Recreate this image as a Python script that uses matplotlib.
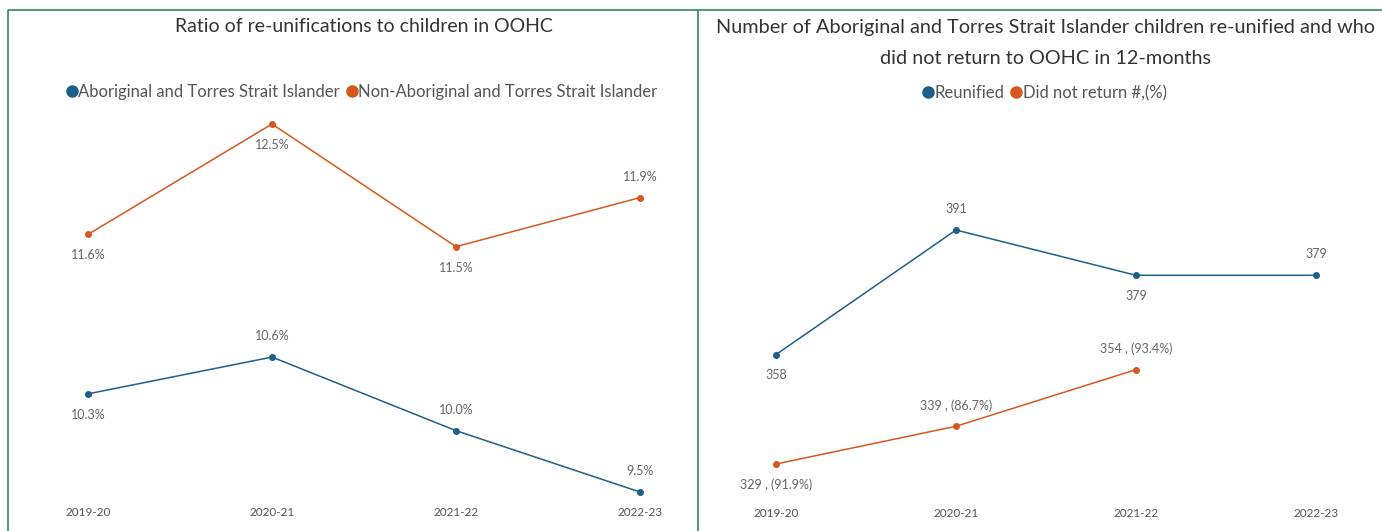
import matplotlib
matplotlib.use("Agg")
import matplotlib.pyplot as plt
from matplotlib.lines import Line2D

plt.rcParams['font.family'] = ['Lato', 'DejaVu Sans']

years = ["2019-20", "2020-21", "2021-22", "2022-23"]

# ratio of re-unifications (%)
aboriginal = [10.3, 10.6, 10.0, 9.5]
non_aboriginal = [11.6, 12.5, 11.5, 11.9]

# counts of Aboriginal and Torres Strait Islander children
reunified = [358, 391, 379, 379]
not_returned = [329, 339, 354]
not_returned_pct = [91.9, 86.7, 93.4]

BLUE = "#1d5f8a"
ORANGE = "#d5581f"
GREEN = "#2e8b57"
TXT = "#666666"

W, H = 1382, 531
fig = plt.figure(figsize=(W / 100, H / 100), dpi=100)


def rect(l, t, r, b):
    return [l / W, 1 - b / H, (r - l) / W, (b - t) / H]


def label(ax, x, y, s, up):
    ax.annotate(s, (x, y), xytext=(0, 15 if up else -15), textcoords="offset points",
                ha="center", va="center", fontsize=9, color=TXT)


def style(ax, pad):
    ax.set_xlim(0, 3)
    ax.set_xticks(range(4))
    ax.set_xticklabels(years, fontsize=8.5, color="#555555")
    ax.tick_params(axis="x", length=0, pad=pad)
    ax.set_yticks([])
    for s in ax.spines.values():
        s.set_visible(False)
    ax.patch.set_alpha(0)


# left: ratio chart
ax1 = fig.add_axes(rect(88, 124, 640, 492))
ax1.set_ylim(9.5, 12.5)
style(ax1, 11)
ax1.plot(range(4), non_aboriginal, color=ORANGE, lw=1.1, marker="o", ms=4, clip_on=False)
ax1.plot(range(4), aboriginal, color=BLUE, lw=1.1, marker="o", ms=4, clip_on=False)
for i, v in enumerate(non_aboriginal):
    label(ax1, i, v, f"{v:.1f}%", i == 3)
for i, v in enumerate(aboriginal):
    label(ax1, i, v, f"{v:.1f}%", i != 0)

fig.text(364 / W, 1 - 27 / H, "Ratio of re-unifications to children in OOHC",
         ha="center", va="center", fontsize=14, color="#333333")
h1 = [Line2D([], [], ls="", marker="o", ms=8, color=BLUE),
      Line2D([], [], ls="", marker="o", ms=8, color=ORANGE)]
fig.legend(h1, ["Aboriginal and Torres Strait Islander", "Non-Aboriginal and Torres Strait Islander"],
           loc="center", bbox_to_anchor=(362 / W, 1 - 92 / H), ncol=2, frameon=False,
           handlelength=0.6, handletextpad=0.1, columnspacing=0.4, fontsize=12,
           labelcolor="#555555")

# right: counts chart
ax2 = fig.add_axes(rect(776, 230, 1316, 464))
ax2.set_ylim(329, 391)
style(ax2, 32)
ax2.plot(range(4), reunified, color=BLUE, lw=1.1, marker="o", ms=4, clip_on=False)
ax2.plot(range(3), not_returned, color=ORANGE, lw=1.1, marker="o", ms=4, clip_on=False)
for i, v in enumerate(reunified):
    label(ax2, i, v, str(v), i in (1, 3))
for i, (v, p) in enumerate(zip(not_returned, not_returned_pct)):
    label(ax2, i, v, f"{v} , ({p}%)", i != 0)

fig.text(1046 / W, 1 - 27 / H, "Number of Aboriginal and Torres Strait Islander children re-unified and who",
         ha="center", va="center", fontsize=14.3, color="#333333")
fig.text(1046 / W, 1 - 58 / H, "did not return to OOHC in 12-months",
         ha="center", va="center", fontsize=14.3, color="#333333")
h2 = [Line2D([], [], ls="", marker="o", ms=8, color=BLUE),
      Line2D([], [], ls="", marker="o", ms=8, color=ORANGE)]
fig.legend(h2, ["Reunified", "Did not return #,(%)"],
           loc="center", bbox_to_anchor=(1045 / W, 1 - 93 / H), ncol=2, frameon=False,
           handlelength=0.6, handletextpad=0.1, columnspacing=0.4, fontsize=12,
           labelcolor="#555555")

# panel borders
fig.add_artist(Line2D([8 / W, 8 / W, 1], [0, 1 - 10 / H, 1 - 10 / H], color=GREEN, lw=1.2))
fig.add_artist(Line2D([698 / W, 698 / W], [0, 1 - 10 / H], color=GREEN, lw=1.2))

fig.savefig("out.png", dpi=100)
